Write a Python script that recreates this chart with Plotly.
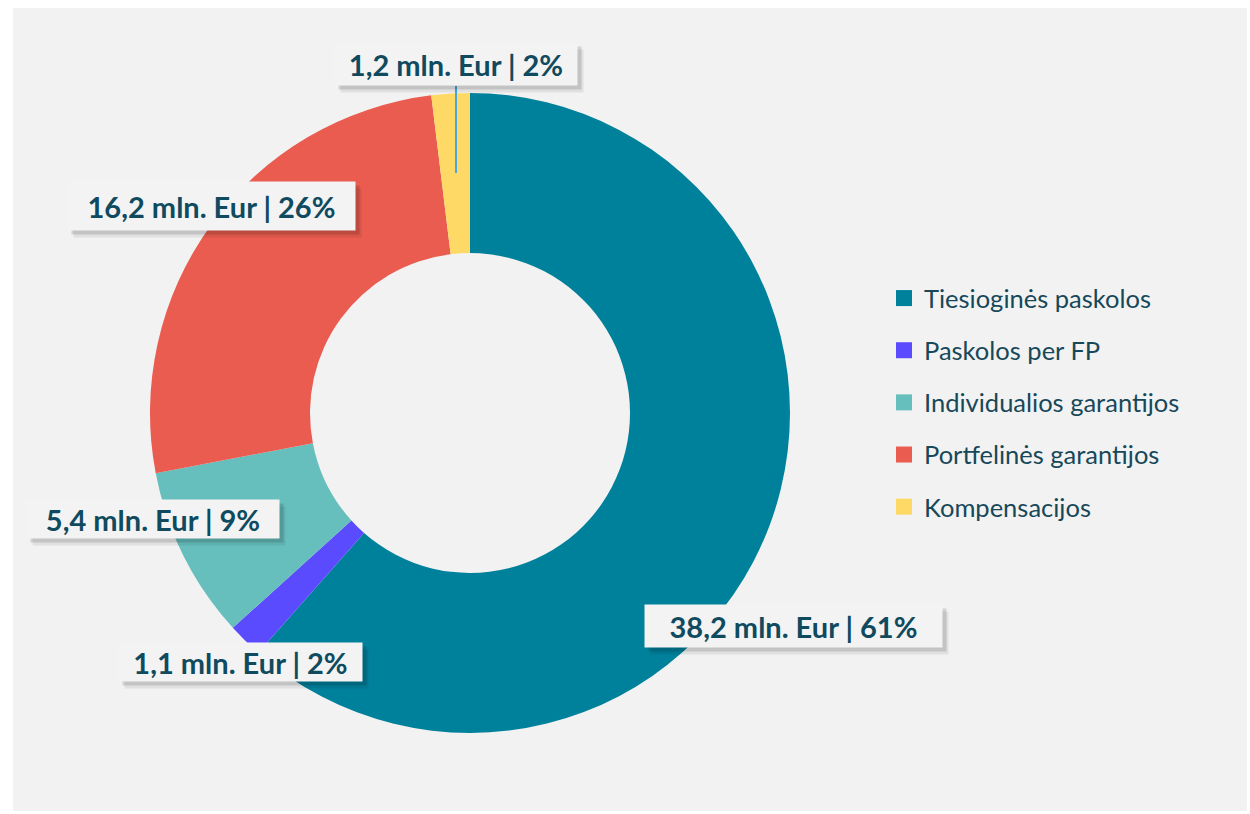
import plotly.graph_objects as go

# ---- data ----
categories = ["Tiesioginės paskolos", "Paskolos per FP", "Individualios garantijos",
              "Portfelinės garantijos", "Kompensacijos"]
values_mln = [38.2, 1.1, 5.4, 16.2, 1.2]
percents = [61, 2, 9, 26, 2]
colors = ["#00819B", "#5B4BFF", "#66BFBD", "#E95C4F", "#FFD966"]

W, H = 1250, 814
def px(x):
    return x / W
def py(y):
    return 1 - y / H

TEXT_COL = "#0F4A5E"
FONT = "Lato"

fig = go.Figure()
fig.add_trace(go.Pie(
    labels=categories, values=values_mln, sort=False, direction="clockwise",
    rotation=0, hole=0.5, marker=dict(colors=colors, line=dict(width=0)),
    textinfo="none", showlegend=False, hoverinfo="label+value+percent",
    domain=dict(x=[px(150), px(790)], y=[py(733), py(93)]),
))

# legend entries (dummy traces for spacing control)
for name, c in zip(categories, colors):
    fig.add_trace(go.Scatter(x=[None], y=[None], mode="markers", name=name,
                             legendgroup=name,
                             marker=dict(symbol="square", size=16, color=c)))

# label boxes: (center x, center y, width, height) in pixels
label_layout = [(793, 626, 297, 42), (240, 662, 243, 38), (153, 519, 252, 38),
                (211, 206, 287, 48), (456, 64, 242, 42)]
annotations = []
for v, p, (x, y, bw, bh) in zip(values_mln, percents, label_layout):
    txt = f"{v:.1f}".replace(".", ",") + f" mln. Eur | {p}%"
    common = dict(x=px(x), y=py(y), xref="paper", yref="paper", showarrow=False,
                  borderpad=0, width=bw, height=bh, xanchor="center", yanchor="middle")
    annotations.append(dict(**common, text=" ", bgcolor="rgba(0,0,0,0.07)", xshift=6, yshift=-7))
    annotations.append(dict(**common, text=" ", bgcolor="rgba(0,0,0,0.13)", xshift=4, yshift=-4))
    annotations.append(dict(**common, text=txt, bgcolor="#F3F3F3",
                            font=dict(family=FONT, size=29, color=TEXT_COL, weight="bold")))

shapes = [
    dict(type="rect", xref="paper", yref="paper", x0=px(13), x1=px(1247), y0=py(811), y1=py(8),
         fillcolor="#F2F2F2", line=dict(width=0), layer="below"),
    dict(type="line", xref="paper", yref="paper", x0=px(456), x1=px(456), y0=py(86), y1=py(173),
         line=dict(color="#45A8E0", width=2), layer="above"),
]

fig.update_layout(
    width=W, height=H, margin=dict(l=0, r=0, t=0, b=0),
    paper_bgcolor="white", plot_bgcolor="rgba(0,0,0,0)",
    xaxis=dict(visible=False), yaxis=dict(visible=False),
    showlegend=True,
    legend=dict(x=px(884), y=py(275), xanchor="left", yanchor="top",
                font=dict(family=FONT, size=25.5, color="#17485A"),
                tracegroupgap=16, bgcolor="rgba(0,0,0,0)", itemclick=False),
    annotations=annotations, shapes=shapes,
)

fig.write_html("out.html")
